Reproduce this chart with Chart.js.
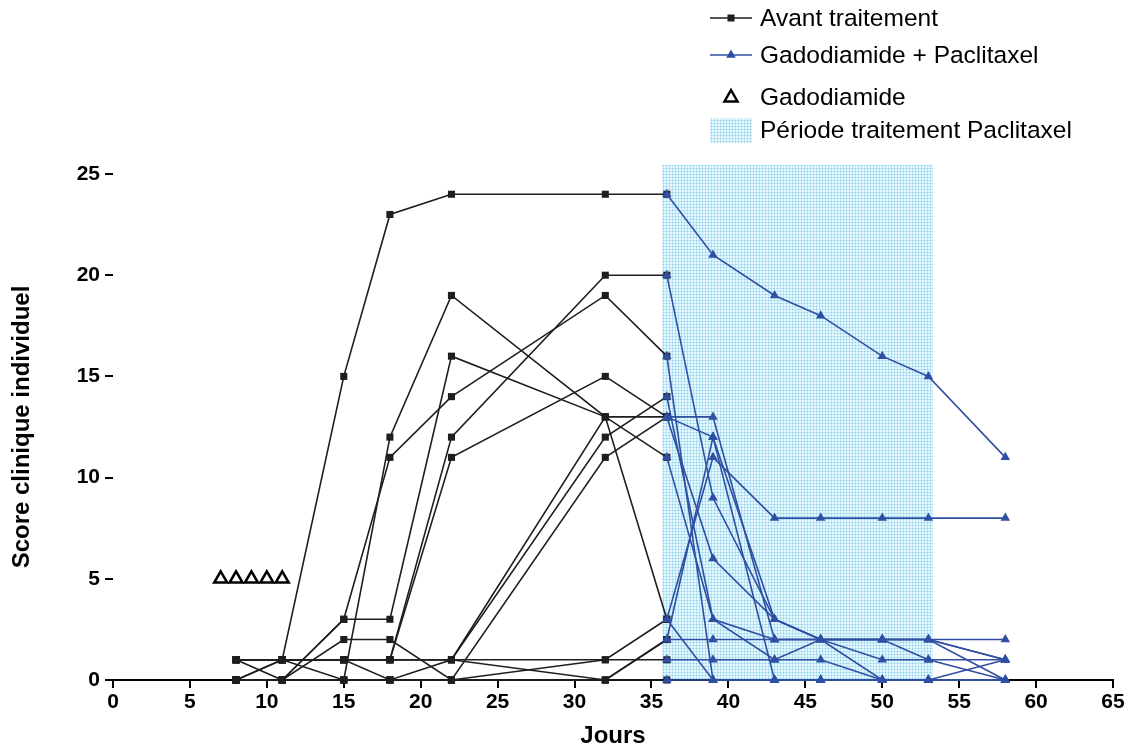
<!DOCTYPE html>
<html>
<head>
<meta charset="utf-8">
<script src="https://cdn.jsdelivr.net/npm/chart.js@4.4.1/dist/chart.umd.min.js"></script>
<style>
  html, body { margin: 0; padding: 0; background: #fff; }
  #wrap { width: 1141px; height: 752px; }
</style>
</head>
<body>
<div id="wrap"><canvas id="chart"></canvas></div>
<script>
// days of measurement
const joursAvant = [8, 11, 15, 18, 22, 32, 36];
const joursTraitement = [36, 39, 43, 46, 50, 53, 58];

// one row per mouse, before treatment (black)
const scoresAvant = [
  [1, 1, 15, 23, 24, 24, 24],
  [1, 1, 1, 1, 12, 20, 20],
  [1, 0, 3, 11, 14, 19, 16],
  [0, 1, 1, 1, 11, 15, 13],
  [1, 1, 0, 12, 19, 13, 13],
  [0, 0, 3, 3, 16, 13, 11],
  [1, 1, 1, 0, 1, 13, 3],
  [1, 1, 1, 1, 1, 12, 14],
  [0, 0, 2, 2, 0, 11, 13],
  [0, 1, 1, 1, 1, 1, 3],
  [0, 0, 0, 0, 0, 1, 1],
  [1, 1, 1, 1, 1, 0, 2],
  [0, 0, 0, 0, 0, 0, 2],
  [0, 0, 0, 0, 0, 0, 0]
];

// same mice, Gadodiamide + Paclitaxel (blue)
const scoresTraitement = [
  [24, 21, 19, 18, 16, 15, 11],
  [20, 9, 3, 2, 2, 1, 0],
  [16, 0, 0, 0, 0, 0, 0],
  [13, 6, 3, 2, 0, 0, 1],
  [13, 13, 2, 2, 2, 2, 2],
  [11, 3, 1, 1, 0, 0, 0],
  [3, 0, 0, 0, 0, 0, 0],
  [14, 3, 2, 2, 1, 1, 1],
  [13, 12, 3, 2, 2, 2, 0],
  [3, 11, 8, 8, 8, 8, 8],
  [1, 1, 1, 2, 2, 2, 1],
  [2, 12, 0, 0, 0, 0, 0],
  [2, 2, 2, 2, 2, 2, 1],
  [0, 0, 0, 0, 0, 0, 0]
];

const joursGadodiamide = [7, 8, 9, 10, 11];
const scoreGadodiamide = [5, 5, 5, 5, 5];

// Paclitaxel period (days) and top of the shaded band (score units)
const periodePaclitaxel = [35.7, 53.3];
const hautPeriode = 25.45;

const legendeLabels = ['Avant traitement', 'Gadodiamide + Paclitaxel', 'Gadodiamide', 'Période traitement Paclitaxel'];

const NOIR = '#1e1e1e';
const BLEU = '#2f4fa2';
const FONT = '"Liberation Sans", Arial, Helvetica, sans-serif';

function toPoints(days, vals) {
  return days.map((d, i) => ({ x: d, y: vals[i] }));
}

// dotted light blue pattern like the original
function makePattern(ctx) {
  const c = document.createElement('canvas');
  c.width = 3; c.height = 3;
  const p = c.getContext('2d');
  p.fillStyle = '#e8f7fc';
  p.fillRect(0, 0, 3, 3);
  p.fillStyle = '#bde7f7';
  p.fillRect(0, 0, 3, 1);
  p.fillRect(0, 0, 1, 3);
  p.fillStyle = '#8ed3ee';
  p.fillRect(0, 0, 1, 1);
  return ctx.createPattern(c, 'repeat');
}

const datasets = [];
scoresTraitement.forEach((s) => {
  datasets.push({
    label: 'Gadodiamide + Paclitaxel',
    data: toPoints(joursTraitement, s),
    borderColor: BLEU,
    backgroundColor: BLEU,
    borderWidth: 1.6,
    pointStyle: 'triangle',
    pointRadius: 5.5,
    pointBorderWidth: 0,
    tension: 0,
    clip: false,
    order: 0
  });
});
scoresAvant.forEach((s) => {
  datasets.push({
    label: 'Avant traitement',
    data: toPoints(joursAvant, s),
    borderColor: NOIR,
    backgroundColor: NOIR,
    borderWidth: 1.6,
    pointStyle: 'rect',
    pointRadius: 5,
    pointBorderWidth: 0,
    tension: 0,
    clip: false,
    order: 1
  });
});
datasets.push({
  label: 'Gadodiamide',
  data: toPoints(joursGadodiamide, scoreGadodiamide),
  showLine: false,
  borderColor: '#000',
  backgroundColor: 'rgba(0,0,0,0)',
  pointStyle: 'triangle',
  pointRadius: 7.5,
  pointBorderWidth: 2.5,
  clip: false,
  order: 0
});

const periodePlugin = {
  id: 'periode',
  beforeDatasetsDraw(chart) {
    const { ctx, scales: { x, y } } = chart;
    const x0 = x.getPixelForValue(periodePaclitaxel[0]);
    const x1 = x.getPixelForValue(periodePaclitaxel[1]);
    const y0 = y.getPixelForValue(0) - 1;
    const y1 = y.getPixelForValue(hautPeriode);
    ctx.save();
    ctx.fillStyle = makePattern(ctx);
    ctx.fillRect(x0, y1, x1 - x0, y0 - y1);
    ctx.restore();
  }
};

const legendePlugin = {
  id: 'legende',
  afterDraw(chart) {
    const ctx = chart.ctx;
    const lx0 = 710, lx1 = 752, mx = 731, tx = 760;
    const rows = [18, 55, 97, 130];
    ctx.save();
    ctx.font = '24.5px ' + FONT;
    ctx.textBaseline = 'middle';
    ctx.textAlign = 'left';
    ctx.fillStyle = '#000';
    legendeLabels.forEach((t, i) => ctx.fillText(t, tx, rows[i] + 1));

    // row 1: black line + square
    ctx.strokeStyle = NOIR; ctx.lineWidth = 1.6;
    ctx.beginPath(); ctx.moveTo(lx0, rows[0]); ctx.lineTo(lx1, rows[0]); ctx.stroke();
    ctx.fillStyle = NOIR; ctx.fillRect(mx - 3.5, rows[0] - 3.5, 7, 7);

    // row 2: blue line + triangle
    ctx.strokeStyle = BLEU;
    ctx.beginPath(); ctx.moveTo(lx0, rows[1]); ctx.lineTo(lx1, rows[1]); ctx.stroke();
    ctx.fillStyle = BLEU;
    ctx.beginPath(); ctx.moveTo(mx, rows[1] - 5.5); ctx.lineTo(mx + 4.8, rows[1] + 2.8); ctx.lineTo(mx - 4.8, rows[1] + 2.8); ctx.closePath(); ctx.fill();

    // row 3: open triangle
    ctx.strokeStyle = '#000'; ctx.lineWidth = 2.5;
    ctx.beginPath(); ctx.moveTo(mx, rows[2] - 7); ctx.lineTo(mx + 6.5, rows[2] + 4.5); ctx.lineTo(mx - 6.5, rows[2] + 4.5); ctx.closePath(); ctx.stroke();

    // row 4: dotted box
    ctx.fillStyle = makePattern(ctx);
    ctx.fillRect(lx0, rows[3] - 12, lx1 - lx0, 25);
    ctx.restore();
  }
};

new Chart(document.getElementById('chart'), {
  type: 'line',
  data: { datasets },
  options: {
    responsive: true,
    maintainAspectRatio: false,
    animation: false,
    layout: { padding: { top: 174, right: 28, left: 0, bottom: 0 } },
    plugins: { legend: { display: false }, tooltip: { enabled: false } },
    scales: {
      x: {
        type: 'linear',
        min: 0, max: 65,
        afterFit(scale) { scale.height = 72; },
        ticks: { stepSize: 5, color: '#000', padding: 2, font: { family: FONT, size: 21, weight: 'bold' } },
        grid: { drawOnChartArea: false, drawTicks: true, tickLength: 8, color: '#000', lineWidth: 2 },
        border: { display: true, color: '#000', width: 2 },
        title: { display: true, text: 'Jours', color: '#000', padding: { top: 0, bottom: 1 }, font: { family: FONT, size: 24, weight: 'bold' } }
      },
      y: {
        min: 0, max: 25,
        afterFit(scale) { scale.width = 113; },
        ticks: { stepSize: 5, color: '#000', padding: 5, font: { family: FONT, size: 21, weight: 'bold' } },
        grid: { drawOnChartArea: false, drawTicks: true, tickLength: 8, color: '#000', lineWidth: 2 },
        border: { display: false },
        title: { display: true, text: 'Score clinique individuel', color: '#000', padding: { top: 8, bottom: 0 }, font: { family: FONT, size: 24, weight: 'bold' } }
      }
    }
  },
  plugins: [periodePlugin, legendePlugin]
});
</script>
</body>
</html>
